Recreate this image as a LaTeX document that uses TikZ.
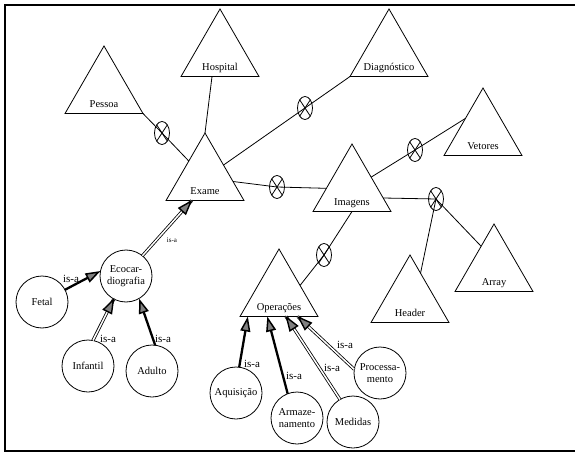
\documentclass[tikz,border=0pt]{standalone}
\usepackage{fontspec}
\setmainfont{Liberation Serif}
\usetikzlibrary{shapes.geometric,arrows.meta,calc,decorations.markings}

\begin{document}
\begin{tikzpicture}[x=1pt, y=-1pt, line width=0.8pt,
        font=\fontsize{10.5}{11.5}\selectfont,
        ent/.style={draw, regular polygon, regular polygon sides=3, minimum size=90pt, inner sep=0pt, outer sep=0pt},
        ttl/.style={anchor=base, yshift=6pt, inner sep=0pt},
        spec/.style={draw, circle, minimum size=52pt, inner sep=0pt, outer sep=0pt, align=center},
        agg/.style={draw, ellipse, minimum width=15pt, minimum height=23pt, inner sep=0pt,
            path picture={\draw (path picture bounding box.north west) -- (path picture bounding box.south east)
                (path picture bounding box.north east) -- (path picture bounding box.south west);}},
        total/.style={line width=2.3pt, -{Triangle[length=15pt, width=10pt, fill=gray, line width=1.5pt]}},
        partial/.style={double, double distance=1.5pt, line width=0.8pt,
            postaction={decorate, decoration={markings, mark=at position 1 with
                {\filldraw[fill=gray, line width=1.4pt, line join=miter] (-1pt,0pt) -- (-14pt,4.5pt) -- (-14pt,-4.5pt) -- cycle;}}}},
        isa/.style={inner sep=0pt, font=\fontsize{11}{12}\selectfont}]
    \useasboundingbox (0,0) rectangle (575,457);
    \draw[line width=1.2pt] (575,5) -- (5,5) -- (5,451) -- (575,451);

    \node[ent, label={[ttl]south:Pessoa}] (pessoa) at (104,91) {};
    \node[ent, label={[ttl]south:Hospital}] (hospital) at (220,54) {};
    \node[ent, label={[ttl]south:Diagnóstico}] (diag) at (389,54) {};
    \node[ent, label={[ttl]south:Exame}] (exame) at (205,178) {};
    \node[ent, label={[ttl]south:Vetores}] (vetores) at (483,133) {};
    \node[ent, label={[ttl]south:Imagens}] (imagens) at (352,189) {};
    \node[ent, label={[ttl]south:Operações}] (operacoes) at (279,294) {};
    \node[ent, label={[ttl]south:Header}] (header) at (410,300) {};
    \node[ent, label={[ttl]south:Array}] (array) at (494,269) {};

    \node[agg] (m1) at (162,133) {};
    \node[agg] (m2) at (305,108) {};
    \node[agg] (m3) at (277,187) {};
    \node[agg] (m4) at (415,150) {};
    \node[agg] (m5) at (436,199) {};
    \node[agg] (m6) at (324,255) {};

    \draw (pessoa.corner 3) -- (m1.center) -- (exame);
    \draw ([xshift=-8pt]hospital.south) -- (exame.corner 1);
    \draw (diag.corner 2) -- (m2.center) -- (exame);
    \draw (exame) -- (m3.center) -- (imagens);
    \draw (imagens) -- (m4.center) -- ($(vetores.corner 1)!0.45!(vetores.corner 2)$);
    \draw ($(imagens.corner 1)!0.8!(imagens.corner 3)$) -- (m5.center);
    \draw (m5.center) -- ($(header.corner 1)!0.27!(header.corner 3)$);
    \draw (m5.center) -- ($(array.corner 1)!0.33!(array.corner 2)$);
    \draw (imagens.south) -- (m6.center) -- ($(operacoes.corner 1)!0.54!(operacoes.corner 3)$);

    \node[spec] (eco) at (126,276) {Ecocar-\\diografia};
    \node[spec] (fetal) at (42,302) {Fetal};
    \node[spec] (infantil) at (88,366) {Infantil};
    \node[spec] (adulto) at (152,371) {Adulto};
    \node[spec] (aquisicao) at (236,393) {Aquisição};
    \node[spec] (armaz) at (297,418) {Armaze-\\namento};
    \node[spec] (medidas) at (353,422) {Medidas};
    \node[spec] (process) at (380,373) {Processa-\\mento};

    \draw[partial] (eco.51) -- ($(exame.corner 2)!0.33!(exame.corner 3)$);
    \draw[total] (fetal.28) -- (eco.169);
    \draw[partial] (infantil.79) -- (eco.-118);
    \draw[total] (adulto.83) -- (eco.-60);
    \draw[total] (aquisicao.83) -- ($(operacoes.corner 2)!0.1!(operacoes.corner 3)$);
    \draw[total] (armaz.111) -- ($(operacoes.corner 2)!0.35!(operacoes.corner 3)$);
    \draw[partial] (medidas.120) -- ($(operacoes.corner 2)!0.59!(operacoes.corner 3)$);
    \draw[partial] (process.172) -- ($(operacoes.corner 2)!0.74!(operacoes.corner 3)$);

    \node[isa, font=\fontsize{7}{8}\selectfont] (isa-eco) at (172,240) {is-a};
    \node[isa] (isa-fetal) at (71,279) {is-a};
    \node[isa] (isa-infantil) at (108,339) {is-a};
    \node[isa] (isa-adulto) at (163,339) {is-a};
    \node[isa] (isa-aquisicao) at (252,364) {is-a};
    \node[isa] (isa-armaz) at (294,376) {is-a};
    \node[isa] (isa-medidas) at (332,368) {is-a};
    \node[isa] (isa-process) at (345,345) {is-a};
\end{tikzpicture}
\end{document}
